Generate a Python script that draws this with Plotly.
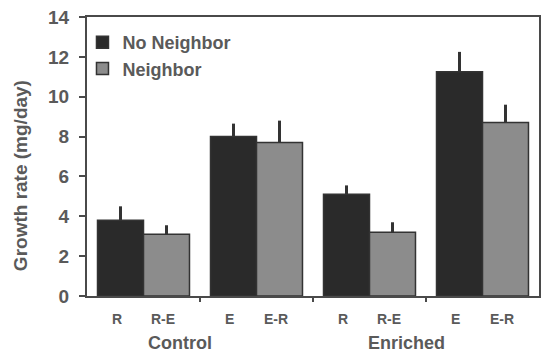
import plotly.graph_objects as go

group_centers = [0.5, 1.5, 2.5, 3.5]
treatments = ["Control", "Enriched"]
bar_labels_dark = ["R", "E", "R", "E"]
bar_labels_light = ["R-E", "E-R", "R-E", "E-R"]

no_neighbor = [3.8, 8.0, 5.1, 11.25]
no_neighbor_err = [0.7, 0.65, 0.45, 1.0]
neighbor = [3.1, 7.7, 3.2, 8.7]
neighbor_err = [0.45, 1.1, 0.5, 0.9]

yticks = [0, 2, 4, 6, 8, 10, 12, 14]

FONT = "Liberation Sans, Arial, sans-serif"
TXT = "#5a5a5a"
AX = "#4a4a4a"
bargap = 0.186

fig = go.Figure()
fig.add_trace(go.Bar(
    name="<b>No Neighbor</b>", x=group_centers, y=no_neighbor,
    marker=dict(color="#2a2a2a", line=dict(color="#333333", width=1.5)),
    error_y=dict(type="data", array=no_neighbor_err, arrayminus=[0]*4,
                 symmetric=False, width=0, thickness=3, color="#333333"),
))
fig.add_trace(go.Bar(
    name="<b>Neighbor</b>", x=group_centers, y=neighbor,
    marker=dict(color="#8c8c8c", line=dict(color="#333333", width=1.5)),
    error_y=dict(type="data", array=neighbor_err, arrayminus=[0]*4,
                 symmetric=False, width=0, thickness=3, color="#333333"),
))

off = (1 - bargap) / 4
annotations = []
for c, a, b in zip(group_centers, bar_labels_dark, bar_labels_light):
    for xx, lab in ((c - off, a), (c + off, b)):
        annotations.append(dict(x=xx, y=-0.082, xref="x", yref="paper", text=f"<b>{lab}</b>",
                                xanchor="center", yanchor="middle",
                                showarrow=False, xshift=-4, font=dict(size=14, color=TXT, family=FONT)))
for i, t in enumerate(treatments):
    annotations.append(dict(x=1 + 2 * i, y=-0.168, xref="x", yref="paper", text=f"<b>{t}</b>",
                            xanchor="center", yanchor="middle",
                            showarrow=False, xshift=-20, font=dict(size=18, color=TXT, family=FONT)))
annotations.append(dict(x=-0.148, y=0.43, xref="paper", yref="paper", text="<b>Growth rate (mg/day)</b>",
                        xanchor="center", yanchor="middle",
                        textangle=-90, showarrow=False, font=dict(size=19, color=TXT, family=FONT)))

fig.update_layout(
    width=541, height=356,
    margin=dict(l=87, r=2, t=17, b=60, autoexpand=False),
    paper_bgcolor="white", plot_bgcolor="white",
    barmode="group", bargap=bargap, bargroupgap=0,
    font=dict(family=FONT, color=TXT),
    showlegend=True,
    legend=dict(x=-0.01, y=0.975, xanchor="left", yanchor="top", bgcolor="rgba(0,0,0,0)",
                font=dict(size=18, color=TXT, family=FONT), itemwidth=30, tracegroupgap=0),
    annotations=annotations,
    xaxis=dict(range=[0, 4], tickvals=[1, 2, 3], showticklabels=False, ticks="outside",
               ticklen=4, tickwidth=2, tickcolor=AX, showline=True, linecolor=AX, linewidth=2,
               mirror=True, showgrid=False, zeroline=False, automargin=False),
    yaxis=dict(range=[0, 14], tickvals=yticks, ticktext=[f"<b>{v}</b>" for v in yticks],
               ticks="outside", ticklen=6, tickwidth=2, tickcolor=AX, showline=True, linecolor=AX,
               linewidth=2, mirror=True, showgrid=False, zeroline=False, ticklabelstandoff=6,
               automargin=False, tickfont=dict(size=19, color=TXT, family=FONT)),
)
fig.write_html("out.html", config={"displayModeBar": False},
               post_script="document.body.style.margin='0';document.body.style.overflow='hidden';")
